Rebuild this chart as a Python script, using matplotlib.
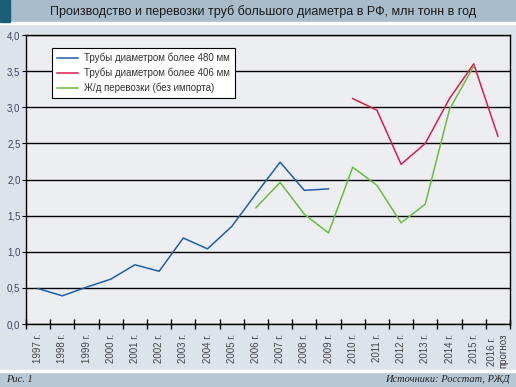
import matplotlib.pyplot as plt
import numpy as np
from matplotlib.patches import Rectangle

plt.rcParams["font.family"] = ["Liberation Sans", "DejaVu Sans"]

# Годы и подписи оси X
years = [str(y) for y in range(1997, 2017)]
xlabels = [y + " г." for y in years[:-1]] + ["2016 г.\nпрогноз"]

# Трубы диаметром более 480 мм (1997-2009)
pipe480 = [0.49, 0.39, 0.51, 0.62, 0.82, 0.73, 1.19, 1.04, 1.35, 1.80, 2.24, 1.85, 1.87]
# Трубы диаметром более 406 мм (2010-2016)
pipe406 = [3.12, 2.96, 2.21, 2.50, 3.12, 3.60, 2.60]
# Ж/д перевозки (2006-2015)
rail = [1.61, 1.96, 1.52, 1.26, 2.17, 1.92, 1.40, 1.66, 2.97, 3.57]

x = np.arange(len(years))
x480 = x[:len(pipe480)]
x406 = x[years.index("2010"):years.index("2010") + len(pipe406)]
xrail = x[years.index("2006"):years.index("2006") + len(rail)]

fig = plt.figure(figsize=(5.16, 3.87), dpi=100)
fig.patch.set_facecolor("#dde3ea")

# полоса заголовка сверху и подвал снизу
fig.patches.append(Rectangle((0, 1 - 22/387), 1, 22/387, transform=fig.transFigure, color="#a8bccb", zorder=0))
fig.patches.append(Rectangle((0, 1 - 22/387), 10/516, 22/387, transform=fig.transFigure, color="#1c5d78", zorder=1))
fig.patches.append(Rectangle((0, 1 - 24/387), 1, 2/387, transform=fig.transFigure, color="white", zorder=0))
fig.patches.append(Rectangle((0, 0), 1, 15/387, transform=fig.transFigure, color="#b8c8d5", zorder=0))
fig.patches.append(Rectangle((0, 15/387), 1, 2/387, transform=fig.transFigure, color="white", zorder=0))

fig.text(263/516, 1 - 12/387, "Производство и перевозки труб большого диаметра в РФ, млн тонн в год",
         ha="center", va="center", fontsize=9, color="#1a1a1a")
fig.text(6/516, 7.5/387, "Рис. 1", ha="left", va="center", fontsize=7.5,
         family="Liberation Serif", style="italic", color="#222222")
fig.text(510/516, 7.5/387, "Источники: Росстат, РЖД", ha="right", va="center", fontsize=7.5,
         family="Liberation Serif", style="italic", color="#222222")

ax = fig.add_axes([26/516, 1 - 324/387, 484/516, 289/387])
ax.set_facecolor("#eceef2")

ax.plot(x480, pipe480, color="#1f5fa8", lw=1.1, label="Трубы диаметром более 480 мм")
ax.plot(x406, pipe406, color="#d81e4c", lw=1.1, label="Трубы диаметром более 406 мм")
ax.plot(xrail, rail, color="#6cbd3c", lw=1.1, label="Ж/д перевозки (без импорта)")

ax.set_xlim(-0.5, len(years) - 0.5)
ax.set_ylim(0, 4)
yt = np.arange(0, 4.01, 0.5)
ax.set_yticks(yt)
ax.set_yticklabels([f"{v:.1f}".replace(".", ",") for v in yt])
ax.yaxis.grid(True, color="black", lw=1)
ax.set_axisbelow(True)

ax.set_xticks(x)
ax.set_xticklabels(xlabels, rotation=90, va="top", ha="center", fontsize=7, color="#444444")
ax.set_xticks(np.arange(-0.5, len(years)), minor=True)
ax.tick_params(axis="x", which="major", length=0, pad=7)
ax.tick_params(axis="x", which="minor", direction="inout", length=7, width=1)
ax.tick_params(axis="y", direction="out", length=3, labelsize=7, labelcolor="#444466", pad=1)
for s in ax.spines.values():
    s.set_linewidth(1)
    s.set_color("black")

leg = ax.legend(loc="upper left", bbox_to_anchor=(26/484, 1 - 13/289), fontsize=7,
                frameon=True, fancybox=False, framealpha=1, edgecolor="black",
                handlelength=2.2, handletextpad=0.6, borderpad=0.5, labelspacing=0.45,
                borderaxespad=0)
leg.get_frame().set_linewidth(0.8)
for t in leg.get_texts():
    t.set_color("#333333")

fig.savefig("out.png", dpi=100, facecolor=fig.get_facecolor())
